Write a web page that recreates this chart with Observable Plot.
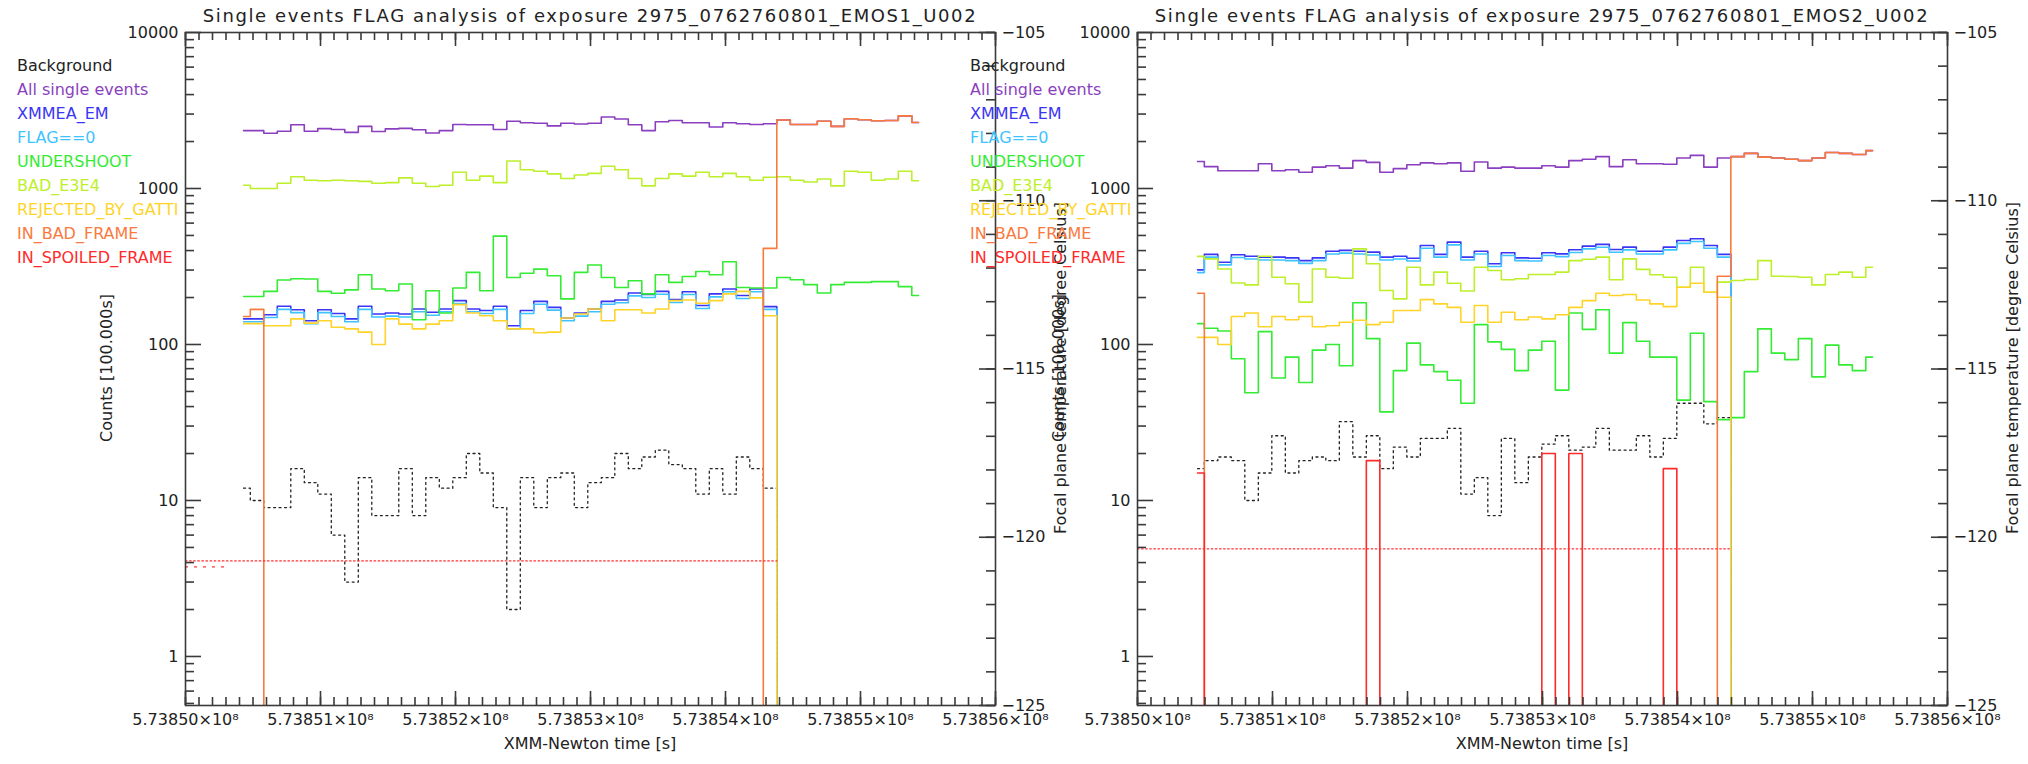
<!DOCTYPE html>
<html>
<head>
<meta charset="utf-8">
<script src="https://cdn.jsdelivr.net/npm/d3@7"></script>
<script src="https://cdn.jsdelivr.net/npm/@observablehq/plot@0.6"></script>
<style>
  body { margin: 0; background: #fff; }
  #root { position: relative; width: 2028px; height: 764px; overflow: hidden; font-family: "DejaVu Sans", sans-serif; background: #fff; }
  #root svg { position: absolute; left: 0; top: 0; }
  .t { position: absolute; white-space: nowrap; line-height: 1; }
  .c { transform: translate(-50%, -50%); }
  .r { transform: translate(-50%, -50%) rotate(-90deg); }
  .lg { transform: translate(0, -50%); font-size: 16px; }
</style>
</head>
<body>
<div id="root"></div>
<script>
// ---------------- data ----------------
const T0 = 573850000;
const titles = [
  "Single events FLAG analysis of exposure 2975_0762760801_EMOS1_U002",
  "Single events FLAG analysis of exposure 2975_0762760801_EMOS2_U002"
];
const xLabel = "XMM-Newton time [s]";
const yLabel = "Counts [100.000s]";
const tempLabel = "Focal plane temperature [degree Celsius]";
const legendLabels = ["Background", "All single events", "XMMEA_EM", "FLAG==0", "UNDERSHOOT",
  "BAD_E3E4", "REJECTED_BY_GATTI", "IN_BAD_FRAME", "IN_SPOILED_FRAME"];

const xTickValues = [573850000, 573851000, 573852000, 573853000, 573854000, 573855000, 573856000];
const xTickLabels = ["5.73850×10⁸", "5.73851×10⁸", "5.73852×10⁸", "5.73853×10⁸", "5.73854×10⁸", "5.73855×10⁸", "5.73856×10⁸"];
const yTickValues = [1, 10, 100, 1000, 10000];
const yTickLabels = ["1", "10", "100", "1000", "10000"];
const tempTickValues = [-125, -120, -115, -110, -105];
const tempTickLabels = ["\u2212125", "\u2212120", "\u2212115", "\u2212110", "\u2212105"];

// time of each bin centre, seconds after 5.73850e8
const emos1Times = [430,530,630,730,830,930,1030,1130,1230,1330,1430,1530,1630,1730,1830,1930,2030,2130,2230,2330,2430,2530,2630,2730,2830,2930,3030,3130,3230,3330,3430,3530,3630,3730,3830,3930,4030,4130,4230,4330,4430,4530,4630,4730,4830,4930,5030,5130,5230,5330,5430];
const emos2Times = [445,545,645,745,845,945,1045,1145,1245,1345,1445,1545,1645,1745,1845,1945,2045,2145,2245,2345,2445,2545,2645,2745,2845,2945,3045,3145,3245,3345,3445,3545,3645,3745,3845,3945,4045,4145,4245,4345,4445,4545,4645,4745,4845,4945,5045,5145,5245,5345,5445];

// EMOS1
const emos1Background = [12,10,9,9,16,13,11,6,3,14,8,8,16,8,14,12,14,20,15,9,2,14,9,14,15,9,13,14,20,16,19,21,17,16,11,16,11,19,16,12,0,0,0,0,0,0,0,0,0,0,0];
const emos1All = [2350,2350,2260,2330,2560,2330,2420,2390,2290,2500,2320,2410,2430,2380,2270,2350,2570,2560,2560,2390,2700,2640,2620,2520,2620,2590,2620,2870,2790,2560,2350,2680,2730,2640,2640,2480,2640,2600,2570,2600,2750,2570,2570,2700,2500,2800,2760,2720,2730,2920,2650];
const emos1Xmmea = [146,146,155,176,167,142,167,158,146,176,157,159,157,169,161,169,191,169,165,176,132,165,189,173,148,159,169,189,193,214,209,219,194,218,178,211,227,206,227,175,0,0,0,0,0,0,0,0,0,0,0];
const emos1Flag0 = [140,140,149,168,160,136,160,151,140,168,150,152,150,162,154,162,183,162,158,168,126,158,181,166,142,152,162,181,185,205,200,210,186,209,170,202,218,197,218,168,0,0,0,0,0,0,0,0,0,0,0];
const emos1Undershoot = [203,203,219,259,264,263,219,213,224,280,227,221,244,144,221,159,230,290,221,495,269,286,304,276,196,290,323,269,232,256,211,280,250,273,294,280,339,232,230,230,269,260,242,214,242,250,250,253,253,235,206];
const emos1BadE3E4 = [1050,1000,1000,1080,1190,1130,1120,1130,1120,1110,1080,1090,1170,1080,1030,1050,1270,1130,1200,1090,1500,1320,1290,1240,1160,1220,1250,1390,1320,1160,1040,1160,1240,1200,1270,1190,1250,1190,1130,1180,1190,1130,1100,1150,1040,1290,1270,1130,1150,1290,1120];
const emos1Rejected = [136,136,132,132,146,137,142,129,126,120,100,146,135,126,135,142,180,159,153,142,126,126,119,120,148,157,169,142,167,167,159,169,191,193,184,191,211,219,199,153,0,0,0,0,0,0,0,0,0,0,0];
const emos1BadFrame = [151,168,0,0,0,0,0,0,0,0,0,0,0,0,0,0,0,0,0,0,0,0,0,0,0,0,0,0,0,0,0,0,0,0,0,0,0,0,0,413,2750,2570,2570,2700,2500,2800,2760,2720,2730,2920,2650];
const emos1SpoiledLevel = [4.1, 4.1];
const emos1SpoiledLevelTimes = [0, 4380];
const emos1SpoiledExtra = [3.75, 3.75];
const emos1SpoiledExtraTimes = [0, 300];

// EMOS2
const emos2Background = [16,18,19,18,10,15,26,15,18,19,18,32,19,26,16,22,19,25,25,29,11,14,8,25,13,19,23,26,21,22,29,21,21,26,19,25,42,42,31,34,0,0,0,0,0,0,0,0,0,0,0];
const emos2All = [1490,1380,1300,1300,1300,1440,1300,1320,1270,1370,1400,1350,1510,1470,1270,1340,1420,1460,1440,1460,1290,1480,1350,1370,1350,1350,1400,1370,1510,1540,1600,1380,1530,1440,1440,1430,1570,1630,1370,1570,1600,1680,1590,1570,1540,1510,1570,1700,1680,1650,1750];
const emos2Xmmea = [301,378,337,376,368,363,363,359,345,359,396,401,396,391,363,368,357,431,378,453,363,396,329,387,359,357,387,381,405,427,438,406,421,396,396,421,464,476,431,378,0,0,0,0,0,0,0,0,0,0,0];
const emos2Flag0 = [289,363,324,361,353,348,348,345,331,345,380,385,380,375,348,353,343,414,363,435,348,380,316,372,345,343,372,366,389,410,420,390,404,380,380,404,445,457,414,363,0,0,0,0,0,0,0,0,0,0,0];
const emos2Undershoot = [136,127,122,81,49,121,61,83,57,92,100,73,185,109,37,68,102,74,67,59,42,134,104,93,68,92,105,51,159,125,167,88,138,105,83,83,44,118,43,33,34,67,126,88,80,109,62,99,74,68,83];
const emos2BadE3E4 = [367,354,305,248,241,368,270,245,187,305,270,266,410,329,222,196,313,241,291,247,220,313,298,260,264,281,281,291,345,352,363,260,354,303,280,270,233,313,216,251,257,261,345,274,273,270,241,281,291,270,313];
const emos2Rejected = [111,111,100,151,159,130,151,144,151,130,132,139,143,134,139,165,165,194,182,173,139,178,139,161,144,150,146,155,173,191,213,206,209,193,182,175,233,247,216,201,0,0,0,0,0,0,0,0,0,0,0];
const emos2BadFrame = [213,0,0,0,0,0,0,0,0,0,0,0,0,0,0,0,0,0,0,0,0,0,0,0,0,0,0,0,0,0,0,0,0,0,0,0,0,0,0,274,1600,1680,1590,1570,1540,1510,1570,1700,1680,1650,1750];
const emos2Spoiled = [15,0,0,0,0,0,0,0,0,0,0,0,0,18,0,0,0,0,0,0,0,0,0,0,0,0,20,0,20,0,0,0,0,0,0,16,0,0,0,0,0,0,0,0,0,0,0,0,0,0,0];
const emos2SpoiledLevel = [4.9, 4.9];
const emos2SpoiledLevelTimes = [0, 4395];

// ---------------- styles / layout ----------------
const FONT = "DejaVu Sans, sans-serif";
const colors = ["#222222", "#8a3fc0", "#3b35f5", "#3fc3ff", "#35ec35", "#bdf02a", "#ffd42a", "#fa7a3e", "#ff2a2a"];
const W = 2028, H = 764, TOP = 32, BOTTOM = 705, PANEL_W = 810;
const YMIN = 0.485, YMAX = 10000, SPAN = 6000;
const FLOOR = 0.01; // zero counts are drawn below the frame and clipped
const decadePx = (BOTTOM - TOP) / Math.log10(YMAX / YMIN);
const upFromBottom = px => YMIN * 10 ** (px / decadePx);
const downFromTop = px => YMAX / 10 ** (px / decadePx);
const secs = px => px * SPAN / PANEL_W;

function rows(times, vals) {
  return times.map((t, i) => ({t: T0 + t, v: vals[i] > 0 ? vals[i] : FLOOR}));
}

const xMinor = d3.range(T0, T0 + SPAN + 1, 100);
const yMinor = [];
for (const p of [0.1, 1, 10, 100, 1000]) for (let m = 2; m <= 9; m++) { const v = m * p; if (v > YMIN && v < YMAX) yMinor.push(v); }
const tempMinor = d3.range(-125, -104, 1);

const panels = [
  {left: 185, times: emos1Times,
   series: [emos1Background, emos1All, emos1Xmmea, emos1Flag0, emos1Undershoot, emos1BadE3E4, emos1Rejected, emos1BadFrame, null],
   levels: [[emos1SpoiledLevelTimes, emos1SpoiledLevel, "1.5,2.6"], [emos1SpoiledExtraTimes, emos1SpoiledExtra, "2,7"]],
   legendX: 17, title: titles[0]},
  {left: 1137, times: emos2Times,
   series: [emos2Background, emos2All, emos2Xmmea, emos2Flag0, emos2Undershoot, emos2BadE3E4, emos2Rejected, emos2BadFrame, emos2Spoiled],
   levels: [[emos2SpoiledLevelTimes, emos2SpoiledLevel, "1.5,2.6"]],
   legendX: 970, title: titles[1]}
];

const root = document.getElementById("root");
const AX = "#3a3a3a";
const tickStyle = {stroke: AX, strokeWidth: 1.6};

for (const P of panels) {
  P.right = P.left + PANEL_W;
  const marks = [];
  P.series.forEach((vals, i) => {
    if (!vals) return;
    marks.push(Plot.line(rows(P.times, vals), {
      x: "t", y: "v", curve: "step", clip: true,
      stroke: colors[i], strokeWidth: i === 0 ? 1.3 : 1.6,
      strokeDasharray: i === 0 ? "2,3.5" : null
    }));
  });
  for (const [lt, lv, dash] of P.levels) {
    marks.push(Plot.line(lt.map((t, i) => ({t: T0 + t, v: lv[i]})), {
      x: "t", y: "v", clip: true, stroke: "#ff3030", strokeWidth: 1.3, strokeDasharray: dash
    }));
  }
  marks.push(
    // inward tick marks on bottom / top / left edges
    Plot.ruleX(xTickValues, {x: d => d, y1: YMIN, y2: upFromBottom(14), ...tickStyle}),
    Plot.ruleX(xMinor, {x: d => d, y1: YMIN, y2: upFromBottom(8), ...tickStyle}),
    Plot.ruleX(xTickValues, {x: d => d, y1: YMAX, y2: downFromTop(14), ...tickStyle}),
    Plot.ruleX(xMinor, {x: d => d, y1: YMAX, y2: downFromTop(8), ...tickStyle}),
    Plot.ruleY(yTickValues, {y: d => d, x1: T0, x2: T0 + secs(16), ...tickStyle}),
    Plot.ruleY(yMinor, {y: d => d, x1: T0, x2: T0 + secs(9), ...tickStyle}),
    Plot.frame({stroke: AX, strokeWidth: 1.6}),
    Plot.axisX({anchor: "bottom", ticks: xTickValues, tickSize: 0, tickPadding: 8,
      tickFormat: d => xTickLabels[xTickValues.indexOf(d)], fontSize: 16, fill: "#222", label: null}),
    Plot.axisY({anchor: "left", ticks: yTickValues, tickSize: 0, tickPadding: 7,
      tickFormat: d => yTickLabels[yTickValues.indexOf(d)], fontSize: 16, fill: "#222", label: null})
  );
  root.appendChild(Plot.plot({
    width: W, height: H,
    marginLeft: P.left, marginRight: W - P.right, marginTop: TOP, marginBottom: H - BOTTOM,
    x: {domain: [T0, T0 + SPAN], axis: null},
    y: {type: "log", domain: [YMIN, YMAX], axis: null},
    style: {background: "transparent", overflow: "visible", fontFamily: FONT, fontSize: "16px"},
    marks
  }));

  // focal plane temperature axis (right side), its own linear scale
  root.appendChild(Plot.plot({
    width: W, height: H,
    marginLeft: P.left, marginRight: W - P.right, marginTop: TOP, marginBottom: H - BOTTOM,
    x: {domain: [0, PANEL_W], axis: null},
    y: {domain: [-125, -105], axis: null},
    style: {background: "transparent", overflow: "visible", fontFamily: FONT, fontSize: "16px"},
    marks: [
      Plot.ruleY(tempTickValues, {y: d => d, x1: PANEL_W - 16, x2: PANEL_W, ...tickStyle}),
      Plot.ruleY(tempMinor, {y: d => d, x1: PANEL_W - 9, x2: PANEL_W, ...tickStyle}),
      Plot.axisY({anchor: "right", ticks: tempTickValues, tickSize: 0, tickPadding: 6,
        tickFormat: d => tempTickLabels[tempTickValues.indexOf(d)], fontSize: 16, fill: "#222", label: null})
    ]
  }));

  const cx = (P.left + P.right) / 2;
  const add = (cls, text, x, y, css) => {
    const d = document.createElement("div");
    d.className = "t " + cls;
    d.textContent = text;
    d.style.left = x + "px"; d.style.top = y + "px";
    Object.assign(d.style, css || {});
    root.appendChild(d);
  };
  add("c", P.title, cx, 16, {fontSize: "18px", letterSpacing: "1.6px", color: "#222"});
  add("c", xLabel, cx, 744, {fontSize: "16px", color: "#222"});
  add("r", yLabel, P.left - 78, 368, {fontSize: "16px", color: "#222"});
  add("r", tempLabel, P.right + 66, 368, {fontSize: "16px", color: "#222"});
  legendLabels.forEach((lab, i) => add("lg", lab, P.legendX, 66 + 24 * i, {color: colors[i]}));
}
</script>
</body>
</html>
